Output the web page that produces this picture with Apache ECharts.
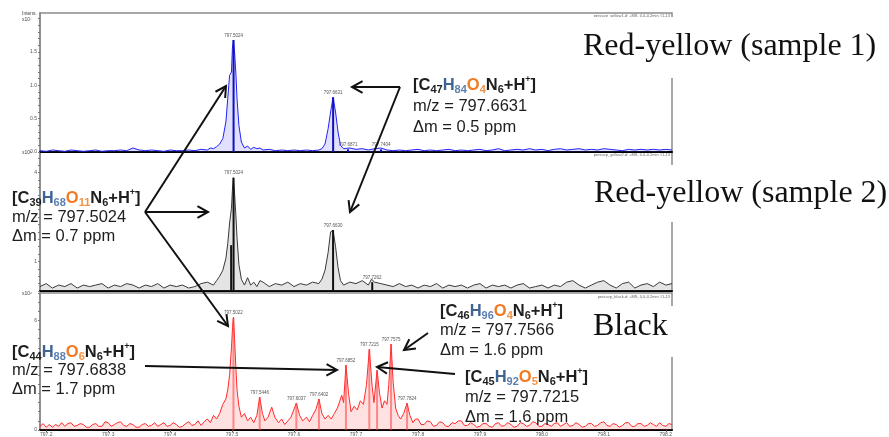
<!DOCTYPE html>
<html><head><meta charset="utf-8">
<script src="https://cdn.jsdelivr.net/npm/echarts@6/dist/echarts.min.js"></script>
<style>html,body{margin:0;padding:0;background:#fff}#c{width:889px;height:437px}</style>
</head><body><div id="c"></div>
<script>
// ---------- data ----------
const mzMin = 797.19, mzMax = 798.21;
const xTickValues = [797.2, 797.3, 797.4, 797.5, 797.6, 797.7, 797.8, 797.9, 798.0, 798.1, 798.2];
const blueYTicks = [0, 0.5, 1.0, 1.5];
const blackYTicks = [1, 4];
const redYTicks = [0, 6];

const blueProfile = [[797.19,0.02],[797.20,0.01],[797.21,0.03],[797.22,0.02],[797.23,0.01],[797.24,0.03],[797.25,0.02],[797.26,0.01],[797.27,0.02],[797.28,0.03],[797.29,0.01],[797.30,0.02],[797.31,0.02],[797.32,0.03],[797.33,0.02],[797.34,0.06],[797.35,0.03],[797.36,0.02],[797.37,0.03],[797.38,0.02],[797.39,0.01],[797.40,0.03],[797.41,0.02],[797.42,0.02],[797.43,0.03],[797.44,0.02],[797.45,0.04],[797.46,0.03],[797.465,0.06],[797.47,0.05],[797.475,0.08],[797.48,0.12],[797.485,0.2],[797.49,0.45],[797.493,0.8],[797.496,1.15],[797.499,1.2],[797.5005,1.55],[797.502,1.68],[797.504,1.5],[797.506,1.2],[797.508,0.8],[797.511,0.4],[797.515,0.15],[797.52,0.06],[797.525,0.09],[797.53,0.04],[797.535,0.07],[797.54,0.05],[797.545,0.06],[797.55,0.03],[797.56,0.04],[797.57,0.02],[797.58,0.03],[797.59,0.02],[797.60,0.03],[797.61,0.02],[797.62,0.03],[797.63,0.02],[797.64,0.03],[797.645,0.05],[797.65,0.12],[797.655,0.35],[797.659,0.6],[797.663,0.82],[797.667,0.6],[797.671,0.3],[797.675,0.1],[797.68,0.05],[797.69,0.06],[797.70,0.04],[797.71,0.05],[797.72,0.03],[797.73,0.05],[797.74,0.06],[797.75,0.03],[797.76,0.02],[797.77,0.03],[797.78,0.02],[797.79,0.03],[797.80,0.04],[797.81,0.02],[797.82,0.03],[797.83,0.02],[797.84,0.03],[797.85,0.04],[797.86,0.02],[797.87,0.03],[797.88,0.02],[797.89,0.03],[797.90,0.04],[797.91,0.02],[797.92,0.03],[797.93,0.05],[797.94,0.02],[797.95,0.03],[797.96,0.04],[797.97,0.03],[797.98,0.05],[797.99,0.03],[798.00,0.04],[798.01,0.02],[798.02,0.04],[798.03,0.05],[798.04,0.03],[798.05,0.04],[798.06,0.05],[798.07,0.03],[798.08,0.04],[798.09,0.03],[798.10,0.05],[798.11,0.04],[798.12,0.03],[798.13,0.02],[798.14,0.04],[798.15,0.03],[798.16,0.04],[798.17,0.03],[798.18,0.04],[798.19,0.03],[798.20,0.04],[798.21,0.03]];
const blueStickMz = [797.5024, 797.6631, 797.6871, 797.7404];
const blueStickInt = [1.68, 0.82, 0.04, 0.04];
const blueStickLabels = ['797.5024', '797.6631', '797.6871', '797.7404'];

const blackProfile = [[797.19,0.15],[797.20,0.25],[797.21,0.1],[797.22,0.2],[797.23,0.15],[797.24,0.25],[797.25,0.1],[797.26,0.2],[797.27,0.15],[797.28,0.2],[797.29,0.25],[797.30,0.1],[797.31,0.2],[797.32,0.15],[797.33,0.25],[797.34,0.2],[797.35,0.1],[797.36,0.2],[797.37,0.15],[797.38,0.25],[797.39,0.1],[797.40,0.2],[797.41,0.15],[797.42,0.2],[797.43,0.1],[797.44,0.15],[797.45,0.25],[797.46,0.3],[797.47,0.2],[797.475,0.35],[797.48,0.5],[797.485,0.7],[797.49,1.1],[797.493,1.6],[797.496,2.3],[797.499,2.8],[797.5005,3.4],[797.502,3.83],[797.504,3.3],[797.506,2.6],[797.508,1.8],[797.511,0.9],[797.515,0.4],[797.52,0.2],[797.525,0.45],[797.53,0.2],[797.535,0.3],[797.54,0.15],[797.545,0.35],[797.55,0.3],[797.56,0.15],[797.57,0.25],[797.58,0.2],[797.59,0.3],[797.60,0.15],[797.61,0.25],[797.62,0.2],[797.63,0.3],[797.64,0.25],[797.645,0.4],[797.65,0.7],[797.655,1.3],[797.659,2.0],[797.663,2.05],[797.667,1.5],[797.671,0.8],[797.675,0.35],[797.68,0.2],[797.69,0.3],[797.70,0.25],[797.71,0.35],[797.72,0.2],[797.725,0.4],[797.73,0.3],[797.74,0.25],[797.75,0.2],[797.76,0.15],[797.77,0.25],[797.78,0.15],[797.79,0.2],[797.80,0.1],[797.81,0.2],[797.82,0.15],[797.83,0.25],[797.84,0.1],[797.85,0.2],[797.86,0.15],[797.87,0.2],[797.88,0.1],[797.89,0.2],[797.90,0.25],[797.91,0.1],[797.92,0.2],[797.93,0.15],[797.94,0.2],[797.95,0.1],[797.96,0.2],[797.97,0.25],[797.98,0.1],[797.99,0.15],[798.00,0.2],[798.01,0.1],[798.02,0.2],[798.03,0.15],[798.04,0.3],[798.05,0.35],[798.06,0.2],[798.07,0.1],[798.08,0.2],[798.09,0.3],[798.10,0.35],[798.11,0.2],[798.12,0.1],[798.13,0.25],[798.14,0.3],[798.15,0.1],[798.16,0.2],[798.17,0.25],[798.18,0.15],[798.19,0.3],[798.20,0.2],[798.21,0.25]];
const blackStickMz = [797.4985, 797.5024, 797.6630, 797.7262];
const blackStickInt = [1.55, 3.83, 2.06, 0.3];
const blackStickLabels = ['', '797.5024', '797.6630', '797.7262'];

const redProfile = [[797.19,0.2],[797.195,0.35],[797.20,0.15],[797.205,0.3],[797.21,0.15],[797.215,0.3],[797.22,0.2],[797.225,0.4],[797.23,0.2],[797.235,0.35],[797.24,0.4],[797.245,0.2],[797.25,0.25],[797.255,0.35],[797.26,0.3],[797.265,0.15],[797.27,0.15],[797.275,0.3],[797.28,0.35],[797.285,0.2],[797.29,0.2],[797.295,0.45],[797.30,0.4],[797.305,0.2],[797.31,0.3],[797.315,0.4],[797.32,0.45],[797.325,0.25],[797.33,0.2],[797.335,0.35],[797.34,0.3],[797.345,0.15],[797.35,0.15],[797.355,0.3],[797.36,0.35],[797.365,0.2],[797.37,0.25],[797.375,0.4],[797.38,0.2],[797.385,0.3],[797.39,0.4],[797.395,0.2],[797.40,0.25],[797.405,0.4],[797.41,0.3],[797.415,0.15],[797.42,0.2],[797.425,0.35],[797.43,0.45],[797.435,0.25],[797.44,0.3],[797.445,0.5],[797.45,0.25],[797.455,0.45],[797.46,0.6],[797.465,0.4],[797.47,0.8],[797.475,0.6],[797.48,0.9],[797.485,1.4],[797.49,1.7],[797.493,2.2],[797.496,3.0],[797.499,4.5],[797.5007,5.6],[797.5022,6.16],[797.504,5.0],[797.506,3.5],[797.508,2.2],[797.511,1.3],[797.515,0.7],[797.52,0.9],[797.525,0.5],[797.53,0.7],[797.535,0.4],[797.54,0.8],[797.5446,1.8],[797.549,0.9],[797.553,0.5],[797.558,0.7],[797.564,1.25],[797.569,0.7],[797.575,0.4],[797.58,0.6],[797.585,0.3],[797.59,0.5],[797.595,0.7],[797.6037,1.47],[797.609,0.8],[797.614,0.5],[797.62,0.7],[797.625,0.45],[797.63,0.8],[797.635,1.1],[797.6402,1.7],[797.645,0.9],[797.65,0.6],[797.655,0.8],[797.66,0.6],[797.665,0.9],[797.67,1.2],[797.677,1.9],[797.68,1.5],[797.6838,3.55],[797.688,2.0],[797.692,1.0],[797.697,1.3],[797.702,1.1],[797.707,1.6],[797.712,1.4],[797.717,2.5],[797.7215,4.42],[797.726,2.4],[797.729,1.5],[797.734,3.27],[797.738,2.0],[797.742,1.2],[797.746,1.6],[797.75,1.4],[797.753,2.5],[797.7566,4.7],[797.76,2.6],[797.764,1.2],[797.768,0.8],[797.772,0.6],[797.777,0.9],[797.7824,1.47],[797.787,0.8],[797.792,0.4],[797.796,0.6],[797.80,0.6],[797.805,0.3],[797.81,0.3],[797.815,0.5],[797.82,0.45],[797.825,0.2],[797.83,0.25],[797.835,0.45],[797.84,0.4],[797.845,0.2],[797.85,0.2],[797.855,0.4],[797.86,0.35],[797.865,0.5],[797.87,0.5],[797.875,0.25],[797.88,0.25],[797.885,0.4],[797.89,0.3],[797.895,0.15],[797.90,0.2],[797.905,0.35],[797.91,0.35],[797.915,0.2],[797.92,0.15],[797.925,0.35],[797.93,0.4],[797.935,0.2],[797.94,0.25],[797.945,0.4],[797.95,0.3],[797.955,0.15],[797.96,0.2],[797.965,0.4],[797.97,0.35],[797.975,0.2],[797.98,0.25],[797.985,0.45],[797.99,0.4],[797.995,0.2],[798.00,0.2],[798.005,0.35],[798.01,0.3],[798.015,0.2],[798.02,0.35],[798.025,0.4],[798.03,0.2],[798.035,0.3],[798.04,0.4],[798.045,0.2],[798.05,0.25],[798.055,0.4],[798.06,0.3],[798.065,0.15],[798.07,0.2],[798.075,0.35],[798.08,0.35],[798.085,0.2],[798.09,0.25],[798.095,0.4],[798.10,0.45],[798.105,0.25],[798.11,0.2],[798.115,0.35],[798.12,0.3],[798.125,0.15],[798.13,0.25],[798.135,0.4],[798.14,0.4],[798.145,0.2],[798.15,0.2],[798.155,0.35],[798.16,0.35],[798.165,0.2],[798.17,0.25],[798.175,0.4],[798.18,0.3],[798.185,0.2],[798.19,0.4],[798.195,0.25],[798.20,0.2],[798.205,0.35],[798.21,0.3]];
const redStickMz = [797.5022, 797.5446, 797.6037, 797.6402, 797.6838, 797.7215, 797.7340, 797.7566, 797.7824];
const redStickInt = [6.16, 1.8, 1.47, 1.7, 3.55, 4.42, 3.27, 4.7, 1.47];
const redStickLabels = ['797.5022', '797.5446', '797.6037', '797.6402', '797.6852', '797.7215', '', '797.7575', '797.7824'];

const panelLabels = ['Red-yellow (sample 1)', 'Red-yellow (sample 2)', 'Black'];
const panelExponents = ['x10\u2077', 'x10\u2075', 'x10\u2076'];
const panelInfo = ['pericarp_yellow1.d: +MS, 0.0-0.2min #1-13', 'pericarp_yellow2.d: +MS, 0.0-0.2min #1-13', 'pericarp_black.d: +MS, 0.0-0.2min #1-13'];

// annotations: formula parts [element, subscript]
const annotations = [
  {parts: [['C','47'],['H','84'],['O','4'],['N','6']], mz: '797.6631', dm: '0.5'},
  {parts: [['C','39'],['H','68'],['O','11'],['N','6']], mz: '797.5024', dm: '0.7'},
  {parts: [['C','44'],['H','88'],['O','6'],['N','6']], mz: '797.6838', dm: '1.7'},
  {parts: [['C','46'],['H','96'],['O','4'],['N','6']], mz: '797.7566', dm: '1.6'},
  {parts: [['C','45'],['H','92'],['O','5'],['N','6']], mz: '797.7215', dm: '1.6'}
];

// ---------- layout ----------
const GL = 40, GW = 632;
const grids = [
  {left: GL, width: GW, top: 13, height: 139},
  {left: GL, width: GW, top: 152, height: 139},
  {left: GL, width: GW, top: 293, height: 137}
];
const yMax = [2.085, 4.7, 7.5];
const yTicks = [blueYTicks, blackYTicks, redYTicks];
const yMinor = [0.1, 0.25, 0.5];
const lineColors = ['#2323f5', '#3a3a3a', '#ff2a2a'];
const areaColors = ['rgba(90,90,255,0.18)', 'rgba(120,120,120,0.2)', 'rgba(255,90,90,0.18)'];
const stickColors = ['#1010c0', '#111111', 'rgba(255,60,60,0.55)'];

function range(step, max) { const a = []; for (let v = 0; v <= max + 1e-9; v += step) a.push(+v.toFixed(4)); return a; }

const chart = echarts.init(document.getElementById('c'), null, {renderer: 'canvas'});

const xAxes = grids.map((g, i) => ({
  type: 'value', gridIndex: i, min: mzMin, max: mzMax,
  axisLine: {show: true, onZero: false, lineStyle: {color: '#000', width: 2}},
  axisTick: {show: i === 2, customValues: xTickValues, length: 2, lineStyle: {color: '#555'}},
  axisLabel: {show: i === 2, customValues: xTickValues, fontSize: 5, color: '#555', margin: 2, formatter: v => v.toFixed(1)},
  splitLine: {show: false}
}));
const yAxes = grids.map((g, i) => ({
  type: 'value', gridIndex: i, min: 0, max: yMax[i],
  axisLine: {show: true, lineStyle: {color: '#888', width: 1.5}},
  axisTick: {show: true, customValues: range(yMinor[i], yMax[i]), length: 2, lineStyle: {color: '#777'}},
  axisLabel: {show: true, customValues: yTicks[i], fontSize: 5, color: '#555', margin: 3,
    formatter: v => i === 0 ? v.toFixed(1) : String(v)},
  splitLine: {show: false}
}));

const profiles = [blueProfile, blackProfile, redProfile];
const sticks = [
  [blueStickMz, blueStickInt, blueStickLabels],
  [blackStickMz, blackStickInt, blackStickLabels],
  [redStickMz, redStickInt, redStickLabels]
];
const series = [];
profiles.forEach((p, i) => {
  series.push({
    type: 'line', xAxisIndex: i, yAxisIndex: i, data: p, showSymbol: false, smooth: false,
    lineStyle: {color: lineColors[i], width: 1}, areaStyle: {color: areaColors[i], opacity: 1},
    silent: true, animation: false, z: 2
  });
  const [mz, it, lb] = sticks[i];
  series.push({
    type: 'bar', xAxisIndex: i, yAxisIndex: i, barWidth: 2,
    data: mz.map((m, k) => [m, it[k]]),
    itemStyle: {color: stickColors[i]},
    label: {show: true, position: 'top', distance: 2, fontSize: 4.5, color: '#555',
      formatter: q => lb[q.dataIndex]},
    silent: true, animation: false, z: 3
  });
});

// ---------- annotations graphics ----------
const FONT = '"Liberation Sans", Arial, sans-serif';
const FS = 16.5;
const richStyles = {
  k: {fontSize: FS, fontWeight: 'bold', fontFamily: FONT, fill: '#1e1e1e', lineHeight: 20},
  ks: {fontSize: 11, fontWeight: 'bold', fontFamily: FONT, fill: '#1e1e1e', lineHeight: 11, verticalAlign: 'bottom'},
  h: {fontSize: FS, fontWeight: 'bold', fontFamily: FONT, fill: '#3f6492', lineHeight: 20},
  hs: {fontSize: 11, fontWeight: 'bold', fontFamily: FONT, fill: '#5b7fae', lineHeight: 11, verticalAlign: 'bottom'},
  o: {fontSize: FS, fontWeight: 'bold', fontFamily: FONT, fill: '#f07b22', lineHeight: 20},
  os: {fontSize: 11, fontWeight: 'bold', fontFamily: FONT, fill: '#f39243', lineHeight: 11, verticalAlign: 'bottom'},
  sp: {fontSize: 9, fontWeight: 'bold', fontFamily: FONT, fill: '#1e1e1e', lineHeight: 11, verticalAlign: 'top'}
};
function formulaText(parts) {
  let s = '{k|[}';
  parts.forEach(([el, n]) => {
    const st = el === 'H' ? 'h' : el === 'O' ? 'o' : 'k';
    s += '{' + st + '|' + el + '}{' + st + 's|' + n + '}';
  });
  s += '{k|+H}{sp|+}{k|]}';
  return s;
}
const annPos = [[413, 85, 21], [12, 198, 19], [12, 352, 18.5], [440, 311, 19.5], [465, 377, 20]];
const graphics = [];
annotations.forEach((a, i) => {
  const [x, y, dy] = annPos[i];
  graphics.push({type: 'text', x: x, y: y, z: 100, style: {text: formulaText(a.parts), rich: richStyles, verticalAlign: 'middle', align: 'left'}});
  graphics.push({type: 'text', x: x, y: y + dy, z: 100, style: {text: 'm/z = ' + a.mz, font: FS + 'px ' + FONT, fill: '#1e1e1e', verticalAlign: 'middle'}});
  graphics.push({type: 'text', x: x, y: y + 2 * dy, z: 100, style: {text: '\u0394m = ' + a.dm + ' ppm', font: FS + 'px ' + FONT, fill: '#1e1e1e', verticalAlign: 'middle'}});
});
function arrow(x1, y1, x2, y2) {
  const ang = Math.atan2(y2 - y1, x2 - x1), L = 12, w = 0.5;
  graphics.push({type: 'line', z: 90, shape: {x1, y1, x2, y2}, style: {stroke: '#111', lineWidth: 2}});
  graphics.push({type: 'polyline', z: 90, shape: {points: [
    [x2 - L * Math.cos(ang - w), y2 - L * Math.sin(ang - w)], [x2, y2],
    [x2 - L * Math.cos(ang + w), y2 - L * Math.sin(ang + w)]]},
    style: {stroke: '#111', lineWidth: 2, fill: null}});
}
arrow(145, 212, 208, 212);
arrow(145, 212, 226, 86);
arrow(145, 212, 228, 326);
arrow(400, 87, 352, 87);
arrow(400, 87, 350, 212);
arrow(145, 366, 337, 370);
arrow(428, 333, 404, 350);
arrow(455, 374, 377, 367);

// panel label boxes
const boxes = [[575, 17, 314, 61], [563, 165, 326, 57], [585, 306, 120, 51]];
const labelPos = [[583, 47], [594, 194], [593, 327]];
panelLabels.forEach((t, i) => {
  const b = boxes[i];
  graphics.push({type: 'rect', z: 80, shape: {x: b[0], y: b[1], width: b[2], height: b[3]}, style: {fill: '#fff'}});
  graphics.push({type: 'text', z: 81, x: labelPos[i][0], y: labelPos[i][1],
    style: {text: t, font: '32px "Liberation Serif", "Times New Roman", serif', fill: '#111', verticalAlign: 'middle'}});
});
// exponents & info
const expY = [20, 153, 294];
panelExponents.forEach((t, i) => {
  graphics.push({type: 'text', z: 50, x: 22, y: expY[i], style: {text: t, font: '5px ' + FONT, fill: '#444', verticalAlign: 'middle'}});
});
graphics.push({type: 'text', z: 50, x: 22, y: 14, style: {text: 'Intens.', font: '5px ' + FONT, fill: '#444', verticalAlign: 'middle'}});
const infoY = [16, 155, 297];
panelInfo.forEach((t, i) => {
  graphics.push({type: 'text', z: 50, x: 670, y: infoY[i], style: {text: t, font: '4px ' + FONT, fill: '#666', align: 'right', verticalAlign: 'middle'}});
});

chart.setOption({
  animation: false,
  backgroundColor: '#fff',
  grid: grids.map(g => Object.assign({show: true, borderColor: '#8a8a8a', borderWidth: 1.5, backgroundColor: 'transparent'}, g)),
  xAxis: xAxes,
  yAxis: yAxes,
  series: series,
  graphic: graphics
});
</script></body></html>
